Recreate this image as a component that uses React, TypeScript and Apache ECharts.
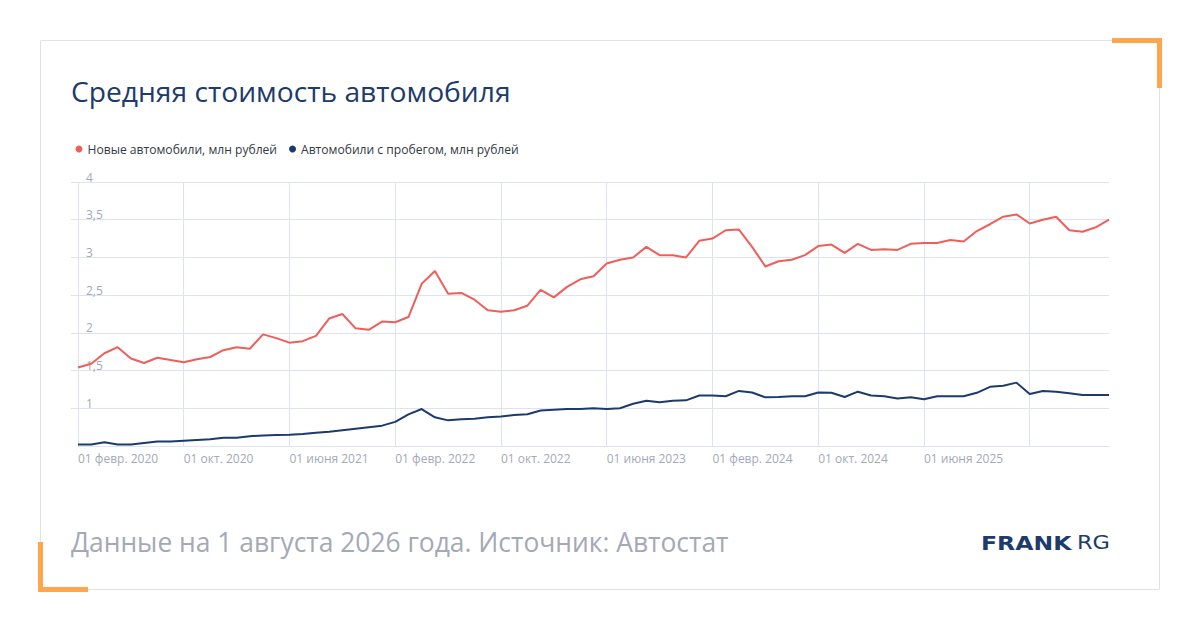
import React, { useEffect, useRef } from "react";
import * as echarts from "echarts";

const monthNames = ["янв.", "февр.", "марта", "апр.", "мая", "июня", "июля", "авг.", "сент.", "окт.", "нояб.", "дек."];
const startYear = 2020;
const startMonth = 1; // February
const pointCount = 79;

const categories: string[] = [];
for (let k = 0; k < pointCount; k++) {
  const m = (startMonth + k) % 12;
  const y = startYear + Math.floor((startMonth + k) / 12);
  categories.push("01 " + monthNames[m] + " " + y);
}

const newCars = [
  1.54, 1.59, 1.73, 1.81, 1.66, 1.60, 1.67, 1.64, 1.61, 1.65,
  1.68, 1.77, 1.81, 1.79, 1.98, 1.93, 1.87, 1.89, 1.96, 2.19,
  2.25, 2.06, 2.04, 2.15, 2.14, 2.21, 2.65, 2.82, 2.52, 2.53,
  2.44, 2.30, 2.28, 2.30, 2.36, 2.57, 2.47, 2.61, 2.71, 2.75,
  2.92, 2.97, 3.00, 3.14, 3.03, 3.03, 3.00, 3.22, 3.25, 3.36,
  3.37, 3.14, 2.88, 2.95, 2.97, 3.03, 3.15, 3.17, 3.06, 3.18,
  3.10, 3.11, 3.10, 3.18, 3.19, 3.19, 3.23, 3.21, 3.35, 3.44,
  3.54, 3.57, 3.45, 3.50, 3.54, 3.36, 3.34, 3.40, 3.50,
];

const usedCars = [
  0.52, 0.52, 0.55, 0.52, 0.52, 0.54, 0.56, 0.56, 0.57, 0.58,
  0.59, 0.61, 0.61, 0.63, 0.64, 0.645, 0.65, 0.66, 0.675, 0.69,
  0.71, 0.73, 0.75, 0.77, 0.82, 0.92, 0.99, 0.88, 0.84, 0.855,
  0.86, 0.88, 0.89, 0.91, 0.92, 0.97, 0.98, 0.99, 0.99, 1.00,
  0.99, 1.00, 1.06, 1.10, 1.08, 1.10, 1.105, 1.17, 1.17, 1.16,
  1.23, 1.21, 1.145, 1.15, 1.16, 1.16, 1.21, 1.205, 1.15, 1.22,
  1.17, 1.16, 1.13, 1.145, 1.12, 1.16, 1.16, 1.16, 1.205, 1.285,
  1.30, 1.34, 1.19, 1.23, 1.22, 1.20, 1.175, 1.175, 1.175,
];

const seriesNames = ["Новые автомобили, млн рублей", "Автомобили с пробегом, млн рублей"];
const titleText = "Средняя стоимость автомобиля";
const footerText = "Данные на 1 августа 2026 года. Источник: Автостат";

const FONT = "'Open Sans', sans-serif";
const GRID = "#dfe3f0";
const ORANGE = "#ffa64d";

export default function App() {
  const ref = useRef<HTMLDivElement>(null);

  useEffect(() => {
    if (!ref.current) return;
    const chart = echarts.init(ref.current, undefined, { renderer: "svg" });
    chart.setOption({
      animation: false,
      backgroundColor: "#ffffff",
      textStyle: { fontFamily: FONT },
      legend: {
        data: seriesNames,
        left: 75.5,
        top: 143,
        padding: 0,
        icon: "circle",
        itemWidth: 7,
        itemHeight: 7,
        itemGap: 12,
        textStyle: { fontSize: 12.1, color: "#333a45", fontFamily: FONT },
      },
      grid: { left: 78, right: 91, top: 182, bottom: 184, containLabel: false },
      xAxis: {
        type: "category",
        data: categories,
        boundaryGap: false,
        axisLine: { show: true, lineStyle: { color: GRID, width: 1 } },
        axisTick: { show: false },
        axisLabel: {
          interval: (idx: number) => idx % 8 === 0 && idx < 72,
          align: "left",
          margin: 6,
          fontSize: 12,
          color: "#a3a9b9",
          fontFamily: FONT,
        },
        splitLine: {
          show: true,
          interval: (idx: number) => idx % 8 === 0,
          lineStyle: { color: GRID, width: 1 },
        },
      },
      yAxis: {
        type: "value",
        min: 0.5,
        max: 4,
        interval: 0.5,
        axisLine: { show: false },
        axisTick: { show: true, inside: false, length: 7, lineStyle: { color: GRID } },
        axisLabel: {
          inside: true,
          showMinLabel: false,
          margin: 8,
          align: "left",
          verticalAlign: "bottom",
          lineHeight: 10,
          fontSize: 12,
          color: "#a3a9b9",
          fontFamily: FONT,
          formatter: (v: number) => String(v).replace(".", ","),
        },
        splitLine: { show: true, lineStyle: { color: GRID, width: 1 } },
      },
      series: [
        {
          name: seriesNames[0],
          type: "line",
          data: newCars,
          symbol: "none",
          lineStyle: { width: 2, color: "#ef5f5a" },
          itemStyle: { color: "#ef5f5a" },
        },
        {
          name: seriesNames[1],
          type: "line",
          data: usedCars,
          symbol: "none",
          lineStyle: { width: 2, color: "#1c3a6c" },
          itemStyle: { color: "#1c3a6c" },
        },
      ],
      graphic: [
        {
          type: "rect",
          shape: { x: 40.5, y: 40.5, width: 1119, height: 549 },
          style: { fill: "none", stroke: "#e2e2e2", lineWidth: 1 },
          z: 1,
        },
        { type: "rect", shape: { x: 1112, y: 38, width: 50, height: 5 }, style: { fill: ORANGE }, z: 2 },
        { type: "rect", shape: { x: 1157, y: 38, width: 5, height: 50 }, style: { fill: ORANGE }, z: 2 },
        { type: "rect", shape: { x: 38, y: 542, width: 5, height: 50 }, style: { fill: ORANGE }, z: 2 },
        { type: "rect", shape: { x: 38, y: 587, width: 50, height: 5 }, style: { fill: ORANGE }, z: 2 },
        {
          type: "text",
          x: 71,
          y: 91,
          style: {
            text: titleText,
            fontSize: 28.2,
            fontFamily: FONT,
            fill: "#1d3b6b",
            verticalAlign: "middle",
            align: "left",
          },
          z: 3,
        },
        {
          type: "text",
          x: 71,
          y: 542,
          style: {
            text: footerText,
            fontSize: 26.4,
            fontFamily: FONT,
            fill: "#a4a9b6",
            verticalAlign: "middle",
            align: "left",
          },
          z: 3,
        },
        {
          type: "text",
          x: 981,
          y: 543,
          scaleX: 1.24,
          style: {
            text: "FRANK",
            fontSize: 19,
            fontWeight: "bold",
            fontFamily: "'DejaVu Sans', sans-serif",
            fill: "#1d3b6b",
            verticalAlign: "middle",
            align: "left",
          },
          z: 3,
        },
        {
          type: "text",
          x: 1077,
          y: 543,
          scaleX: 1.18,
          style: {
            text: "RG",
            fontSize: 19,
            fontFamily: "'DejaVu Sans', sans-serif",
            fill: "#1d3b6b",
            verticalAlign: "middle",
            align: "left",
          },
          z: 3,
        },
      ],
    });
    return () => chart.dispose();
  }, []);

  return (
    <div
      ref={ref}
      style={{ position: "fixed", left: 0, top: 0, width: 1200, height: 630, background: "#fff" }}
    />
  );
}
